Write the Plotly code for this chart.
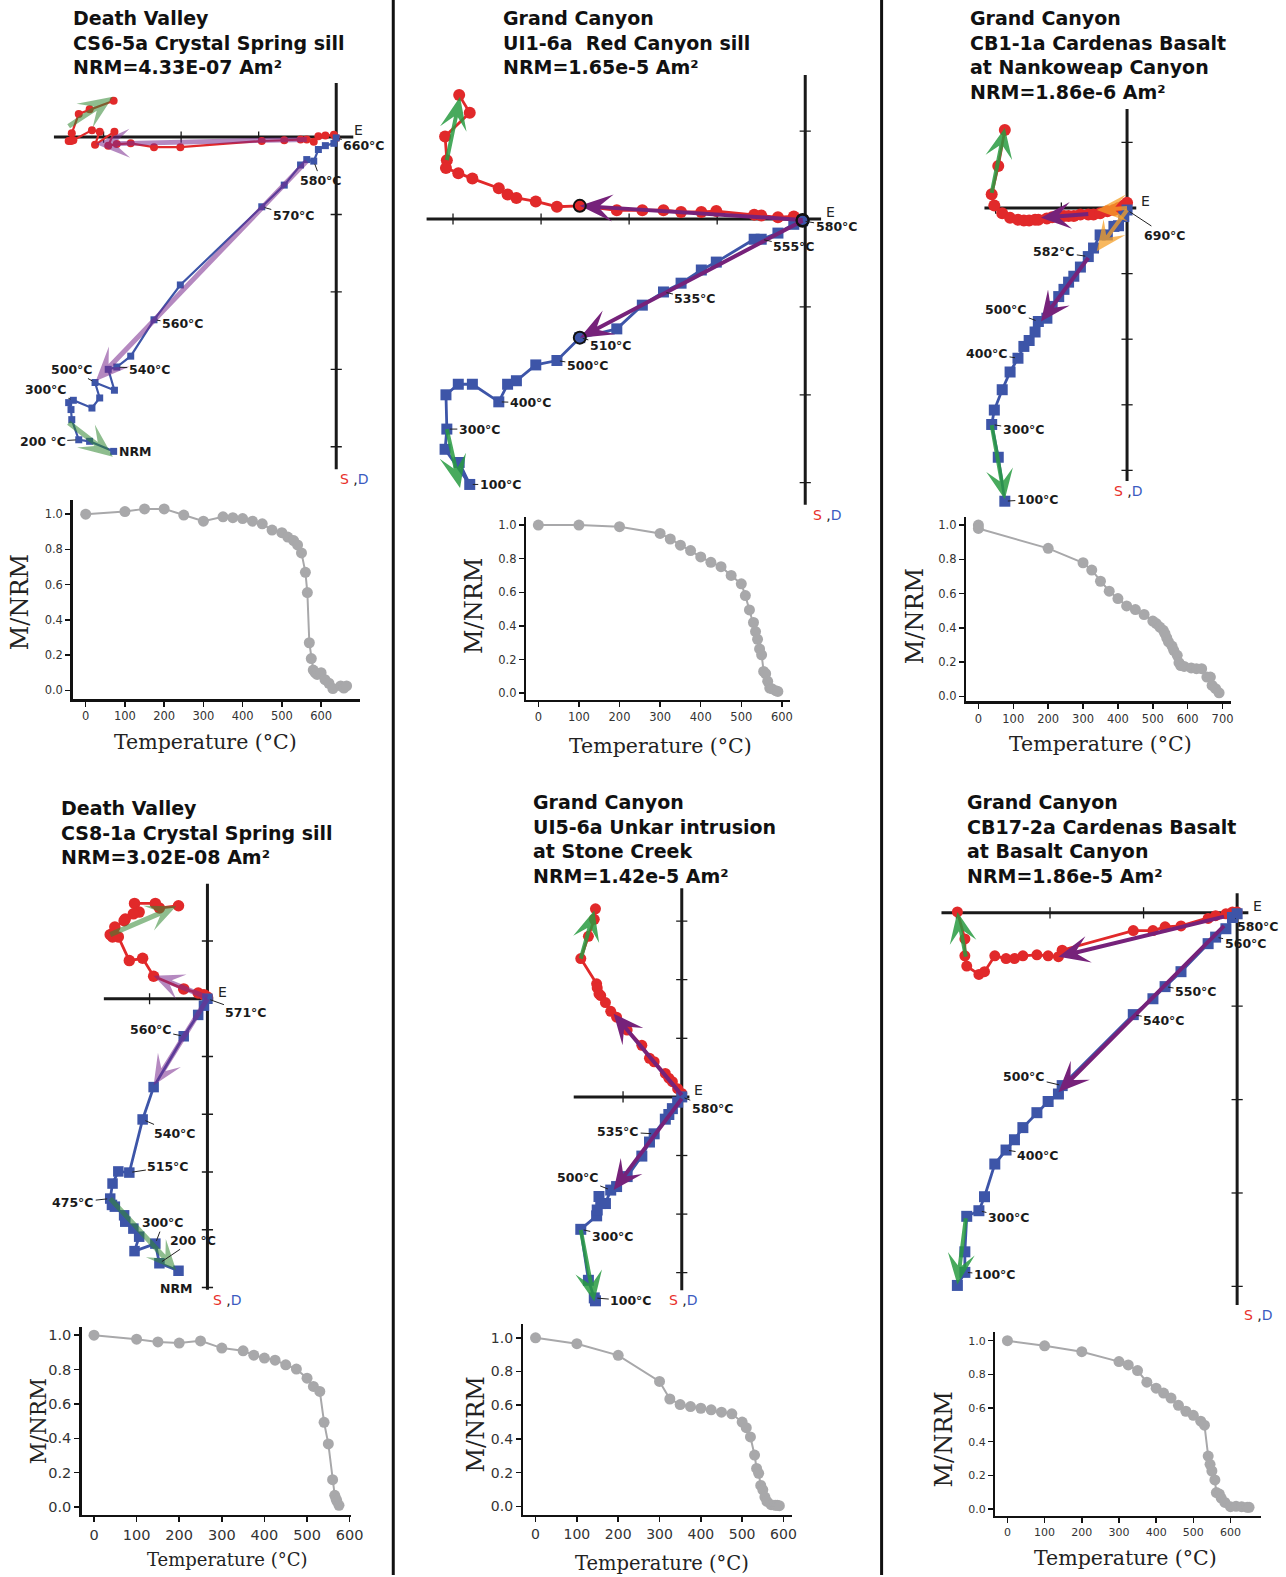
import math
import plotly.graph_objects as go

W, H = 1286, 1577
# the page is photographed ~1% narrower than the layout width; compensate
SX = 0.990

# =====================================================================
# DATA
# Zijderveld plots: x = shared horizontal component, hor = horizontal-plane
# projection (red circles), ver = vertical-plane projection (blue squares);
# units = one axis-tick interval.
# Demag curves: temperature (°C) and M/NRM.
# =====================================================================

# ---- Panel 1 : Death Valley, CS6-5a Crystal Spring sill
p1_title = ["Death Valley", "CS6-5a Crystal Spring sill", "NRM=4.33E-07 Am²"]
p1_x = [-2.87, -3.18, -3.32, -3.41, -3.42, -3.45, -3.39, -3.15, -3.05, -3.11, -2.86, -2.94, -2.83,
        -2.65, -2.35, -2.01, -0.96, -0.67, -0.46, -0.38, -0.29, -0.23, -0.14, -0.03, 0.00]
p1_hor = [0.47, 0.36, 0.30, 0.05, -0.05, -0.05, -0.04, 0.09, 0.07, -0.10, 0.07, -0.11, -0.09,
          -0.08, -0.13, -0.13, -0.05, -0.04, -0.03, -0.03, -0.06, 0.01, 0.02, 0.03, -0.01]
p1_ver = [-4.06, -3.93, -3.91, -3.65, -3.52, -3.43, -3.40, -3.50, -3.37, -3.17, -3.27, -3.00, -2.97,
          -2.83, -2.36, -1.91, -0.90, -0.62, -0.36, -0.29, -0.31, -0.16, -0.11, -0.08, -0.01]
p1_lab_idx = [24, 20, 16, 14, 12, 9, 6, 2]
p1_lab_text = ["660°C", "580°C", "570°C", "560°C", "540°C", "500°C", "300°C", "200 °C"]
p1_nrm_idx = 0
p1_fit_low = dict(x=[-3.45, -2.88], h=[0.14, 0.52], v=[-3.69, -4.13])
p1_fit_mid = dict(x=[-0.38, -3.10], h=[-0.03, -0.09], v=[-0.31, -3.15])
p1_temp = [0, 100, 150, 200, 250, 300, 350, 375, 400, 425, 450, 475, 500, 515, 530, 540, 550, 560,
           565, 570, 575, 580, 585, 590, 600, 610, 620, 630, 650, 658, 665]
p1_mnrm = [1.00, 1.015, 1.03, 1.03, 0.995, 0.96, 0.985, 0.98, 0.975, 0.96, 0.945, 0.91, 0.895, 0.87,
           0.85, 0.825, 0.78, 0.67, 0.555, 0.27, 0.18, 0.115, 0.10, 0.09, 0.10, 0.06, 0.04, 0.01,
           0.025, 0.013, 0.025]

# ---- Panel 2 : Grand Canyon, UI1-6a Red Canyon sill
p2_title = ["Grand Canyon", "UI1-6a\u00a0 Red Canyon sill", "NRM=1.65e-5 Am²"]
p2_x = [-3.93, -3.81, -4.09, -4.07, -4.08, -3.94, -3.78, -3.48, -3.38, -3.28, -3.06, -2.82, -2.56,
        -2.14, -1.85, -1.61, -1.41, -1.18, -1.01, -0.58, -0.50, -0.31, -0.13, -0.03]
p2_hor = [1.41, 1.21, 0.94, 0.67, 0.58, 0.52, 0.46, 0.35, 0.28, 0.24, 0.20, 0.14, 0.15,
          0.10, 0.10, 0.10, 0.08, 0.08, 0.09, 0.05, 0.04, 0.02, 0.03, -0.01]
p2_ver = [-2.77, -3.02, -2.62, -2.39, -2.00, -1.88, -1.88, -2.08, -1.88, -1.84, -1.66, -1.61, -1.35,
          -1.25, -0.98, -0.83, -0.73, -0.58, -0.49, -0.23, -0.23, -0.16, -0.06, -0.02]
p2_lab_idx = [23, 20, 15, 12, 11, 7, 3, 1]
p2_lab_text = ["580°C", "555°C", "535°C", "510°C", "500°C", "400°C", "300°C", "100°C"]
p2_fit_low = dict(x=[-4.07, -3.92], h=[0.67, 1.39], v=[-2.39, -3.06])
p2_fit_mid = dict(x=[-0.03, -2.56], h=[-0.01, 0.15], v=[-0.02, -1.35])
p2_temp = [0, 100, 200, 300, 325, 350, 375, 400, 425, 450, 475, 500, 510, 520, 530, 535, 540, 545,
           550, 555, 560, 565, 570, 575, 585, 590]
p2_mnrm = [1.00, 1.00, 0.99, 0.95, 0.917, 0.88, 0.848, 0.81, 0.778, 0.752, 0.70, 0.65, 0.58, 0.495,
           0.42, 0.366, 0.32, 0.263, 0.228, 0.129, 0.115, 0.07, 0.03, 0.026, 0.014, 0.01]

# ---- Panel 3 : Grand Canyon, CB1-1a Cardenas Basalt at Nankoweap Canyon
p3_title = ["Grand Canyon", "CB1-1a Cardenas Basalt", "at Nankoweap Canyon", "NRM=1.86e-6 Am²"]
p3_x = [-1.86, -1.96, -2.06, -2.02, -1.90, -1.78, -1.66, -1.57, -1.49, -1.40, -1.35, -1.22, -1.14,
        -1.04, -0.96, -0.89, -0.81, -0.71, -0.59, -0.51, -0.41, -0.30, -0.20, -0.13, -0.05, 0.00]
p3_hor = [1.19, 0.64, 0.21, 0.04, -0.08, -0.15, -0.18, -0.19, -0.19, -0.18, -0.18, -0.16, -0.14,
          -0.13, -0.12, -0.12, -0.12, -0.10, -0.10, -0.10, -0.08, -0.05, -0.03, 0.00, 0.04, 0.08]
p3_ver = [-4.47, -3.80, -3.30, -3.08, -2.77, -2.50, -2.29, -2.11, -2.02, -1.89, -1.73, -1.68, -1.50,
          -1.35, -1.24, -1.13, -1.04, -0.90, -0.74, -0.61, -0.41, -0.41, -0.28, -0.27, -0.13, -0.03]
p3_lab_idx = [25, 18, 10, 6, 2, 0]
p3_lab_text = ["690°C", "582°C", "500°C", "400°C", "300°C", "100°C"]
p3_fit_low = dict(x=[-2.06, -1.86], h=[0.23, 1.22], v=[-3.31, -4.44])
p3_fit_mid = dict(x=[-0.59, -1.31], h=[-0.09, -0.15], v=[-0.76, -1.73])
p3_fit_high = dict(x=[0.00, -0.46], h=[0.00, -0.03], v=[-0.03, -0.66])
p3_temp = [0, 0, 200, 300, 325, 350, 375, 400, 425, 450, 475, 500, 510, 520, 530, 535, 540, 545, 555,
           560, 570, 575, 580, 590, 610, 625, 640, 655, 665, 670, 680, 690]
p3_mnrm = [1.00, 0.98, 0.864, 0.78, 0.737, 0.672, 0.614, 0.571, 0.528, 0.507, 0.478, 0.44, 0.425,
           0.405, 0.386, 0.366, 0.341, 0.318, 0.294, 0.269, 0.24, 0.197, 0.18, 0.175, 0.166, 0.162,
           0.162, 0.113, 0.113, 0.064, 0.045, 0.021]

# ---- Panel 4 : Death Valley, CS8-1a Crystal Spring sill
p4_title = ["Death Valley", "CS8-1a Crystal Spring sill", "NRM=3.02E-08 Am²"]
p4_x = [-0.50, -0.83, -0.90, -1.26, -1.18, -1.28, -1.42, -1.44, -1.60, -1.65, -1.68, -1.64, -1.54,
        -1.35, -1.12, -0.93, -0.41, -0.16, -0.06, 0.00]
p4_hor = [1.61, 1.57, 1.65, 1.65, 1.50, 1.47, 1.38, 1.35, 1.24, 1.12, 1.11, 1.07, 1.07,
          0.66, 0.70, 0.39, 0.17, 0.10, 0.07, 0.03]
p4_ver = [-4.71, -4.58, -4.24, -4.37, -4.12, -3.98, -3.86, -3.75, -3.60, -3.57, -3.46, -3.20, -2.99,
          -3.01, -2.09, -1.53, -0.65, -0.28, -0.12, 0.00]
p4_lab_idx = [19, 16, 14, 13, 10, 2, 1]
p4_lab_text = ["571°C", "560°C", "540°C", "515°C", "475°C", "300°C", "200 °C"]
p4_nrm_idx = 0
p4_fit_low = dict(x=[-1.68, -0.54], h=[1.11, 1.60], v=[-3.46, -4.70])
p4_fit_mid = dict(x=[0.00, -0.93], h=[0.02, 0.40], v=[0.00, -1.50])
p4_temp = [0, 100, 150, 200, 250, 300, 350, 375, 400, 425, 450, 475, 500, 515, 530, 540, 550, 560,
           565, 568, 570, 575]
p4_mnrm = [1.00, 0.977, 0.961, 0.954, 0.967, 0.925, 0.909, 0.884, 0.867, 0.855, 0.828, 0.803, 0.75,
           0.702, 0.673, 0.493, 0.367, 0.159, 0.068, 0.048, 0.035, 0.01]

# ---- Panel 5 : Grand Canyon, UI5-6a Unkar intrusion at Stone Creek
p5_title = ["Grand Canyon", "UI5-6a Unkar intrusion", "at Stone Creek", "NRM=1.42e-5 Am²"]
p5_x = [-1.47, -1.49, -1.59, -1.72, -1.45, -1.44, -1.38, -1.41, -1.30, -1.21, -1.11, -0.93, -0.68,
        -0.55, -0.47, -0.28, -0.22, -0.16, -0.07, 0.00]
p5_hor = [3.21, 3.03, 2.74, 2.36, 1.93, 1.86, 1.73, 1.76, 1.61, 1.46, 1.36, 1.14, 0.88,
          0.66, 0.60, 0.40, 0.32, 0.26, 0.14, 0.06]
p5_ver = [-3.48, -3.43, -3.13, -2.26, -2.03, -1.93, -1.82, -1.70, -1.82, -1.59, -1.53, -1.36, -1.01,
          -0.77, -0.63, -0.38, -0.30, -0.20, -0.09, 0.00]
p5_lab_idx = [19, 14, 9, 3, 1]
p5_lab_text = ["580°C", "535°C", "500°C", "300°C", "100°C"]
p5_fit_low = dict(x=[-1.72, -1.49], h=[2.36, 3.18], v=[-2.27, -3.49])
p5_fit_mid = dict(x=[0.00, -1.16], h=[0.03, 1.42], v=[-0.03, -1.59])
p5_temp = [0, 100, 200, 300, 325, 350, 375, 400, 425, 450, 475, 500, 510, 520, 530, 535, 540, 545,
           550, 555, 560, 570, 580, 585, 590]
p5_mnrm = [1.00, 0.965, 0.896, 0.741, 0.637, 0.604, 0.592, 0.582, 0.573, 0.559, 0.549, 0.50, 0.467,
           0.412, 0.304, 0.225, 0.196, 0.124, 0.098, 0.055, 0.029, 0.01, 0.006, 0.006, 0.004]

# ---- Panel 6 : Grand Canyon, CB17-2a Cardenas Basalt at Basalt Canyon
p6_title = ["Grand Canyon", "CB17-2a Cardenas Basalt", "at Basalt Canyon", "NRM=1.86e-5 Am²"]
p6_x = [-2.99, -2.91, -2.91, -2.89, -2.76, -2.70, -2.59, -2.47, -2.38, -2.29, -2.14, -2.02, -1.91,
        -1.87, -1.11, -0.90, -0.77, -0.60, -0.31, -0.23, -0.12, -0.05, 0.00]
p6_hor = [0.01, -0.28, -0.46, -0.57, -0.66, -0.63, -0.46, -0.49, -0.49, -0.46, -0.45, -0.46, -0.47,
          -0.40, -0.19, -0.19, -0.15, -0.14, -0.06, -0.03, -0.01, 0.01, 0.01]
p6_ver = [-3.99, -3.85, -3.63, -3.25, -3.19, -3.04, -2.69, -2.54, -2.43, -2.30, -2.14, -2.02, -1.94,
          -1.85, -1.09, -0.92, -0.79, -0.63, -0.33, -0.26, -0.17, -0.05, -0.01]
p6_lab_idx = [21, 19, 16, 14, 13, 7, 4, 1]
p6_lab_text = ["580°C", "560°C", "550°C", "540°C", "500°C", "400°C", "300°C", "100°C"]
p6_fit_low = dict(x=[-2.90, -2.99], h=[-0.47, 0.01], v=[-3.27, -3.98])
p6_fit_mid = dict(x=[-0.14, -1.91], h=[-0.04, -0.47], v=[-0.14, -1.92])
p6_temp = [0, 100, 200, 300, 325, 350, 375, 400, 420, 440, 460, 480, 500, 520, 530, 540, 545, 550,
           558, 562, 570, 575, 585, 600, 615, 630, 645, 650]
p6_mnrm = [1.00, 0.97, 0.935, 0.876, 0.856, 0.823, 0.754, 0.718, 0.689, 0.659, 0.616, 0.581, 0.557,
           0.522, 0.498, 0.315, 0.266, 0.226, 0.173, 0.098, 0.089, 0.065, 0.039, 0.014, 0.016, 0.014,
           0.01, 0.01]

# =====================================================================
# STYLES / LAYOUT (pixel positions in the 1286x1577 page)
# =====================================================================
RED = "#e1292a"
BLUE = "#3d55a8"
GRAY = "#a8a8aa"
AXC = "#1a1a1a"
LOW_T = "rgba(50,135,50,0.55)"
MID_T = "rgba(120,40,140,0.55)"
LOW = "rgba(40,155,65,0.85)"
MID = "rgb(118,34,122)"
HIGH = "rgba(245,160,40,0.75)"

ZIJ = [
    dict(x=p1_x, h=p1_hor, v=p1_ver, li=p1_lab_idx, lt=p1_lab_text, nrm=p1_nrm_idx,
         fits=[p1_fit_low, p1_fit_mid], title=p1_title),
    dict(x=p2_x, h=p2_hor, v=p2_ver, li=p2_lab_idx, lt=p2_lab_text, nrm=None,
         fits=[p2_fit_low, p2_fit_mid], title=p2_title),
    dict(x=p3_x, h=p3_hor, v=p3_ver, li=p3_lab_idx, lt=p3_lab_text, nrm=None,
         fits=[p3_fit_low, p3_fit_mid, p3_fit_high], title=p3_title),
    dict(x=p4_x, h=p4_hor, v=p4_ver, li=p4_lab_idx, lt=p4_lab_text, nrm=p4_nrm_idx,
         fits=[p4_fit_low, p4_fit_mid], title=p4_title),
    dict(x=p5_x, h=p5_hor, v=p5_ver, li=p5_lab_idx, lt=p5_lab_text, nrm=None,
         fits=[p5_fit_low, p5_fit_mid], title=p5_title),
    dict(x=p6_x, h=p6_hor, v=p6_ver, li=p6_lab_idx, lt=p6_lab_text, nrm=None,
         fits=[p6_fit_low, p6_fit_mid], title=p6_title),
]

ZSTYLE = [
    dict(origin=(336, 137.3), scale=77.5, dom=(10, 385, 75, 488), hext=(-3.64, 0.22), vext=(-4.29, 0.70),
         msz=(8, 7), lw=2.2, lab_off=[(28, 8), (7, 19), (32, 9), (29, 4), (33, 2), (-23, -13), (-27, -11), (-36, 2)],
         nrm_off=(22, 0), e_dx=-1, sd_dx=2, head=(34, 29, 5), colors=[LOW_T, MID_T], ends=False,
         title_xy=(71, 43)),
    dict(origin=(804.7, 219.3), scale=88.0, dom=(400, 870, 72, 514), hext=(-4.30, 0.18), vext=(-3.25, 1.64),
         msz=(12, 11), lw=2.8, lab_off=[(34, 6), (33, 7), (32, 7), (31, 8), (31, 5), (32, 1), (33, 0), (31, 0)],
         nrm_off=None, e_dx=3, sd_dx=6, head=(33, 27, 4), colors=[LOW, MID], ends=True,
         title_xy=(501, 43)),
    dict(origin=(1126.3, 208.3), scale=65.67, dom=(885, 1282, 102, 512), hext=(-2.17, 0.14), vext=(-4.16, 1.51),
         msz=(12, 11), lw=2.8, lab_off=[(38, 25), (-34, -5), (-32, -12), (-31, -5), (32, 5), (33, -2)],
         nrm_off=None, e_dx=3, sd_dx=-15, head=(30, 27, 4), colors=[LOW, MID, HIGH], ends=False,
         title_xy=(967, 55.5)),
    dict(origin=(207.3, 1000), scale=57.83, dom=(10, 385, 878, 1300), hext=(-1.79, 0.10), vext=(-5.04, 1.99),
         msz=(11.5, 10.5), lw=2.8, lab_off=[(39, 14), (-33, -7), (32, 14), (39, -6), (-37, 4), (8, -21), (34, -23)],
         nrm_off=(-2, 18), e_dx=3, sd_dx=4, head=(30, 27, 5), colors=[LOW_T, MID_T], ends=False,
         title_xy=(59, 834)),
    dict(origin=(681.3, 1098.3), scale=58.67, dom=(400, 870, 884, 1312), hext=(-1.84, 0.13), vext=(-3.30, 3.56),
         msz=(11, 11), lw=2.8, lab_off=[(31, 12), (-36, -2), (-33, -13), (32, 7), (37, 3)],
         nrm_off=None, e_dx=3, sd_dx=-15, head=(30, 27, 4), colors=[LOW, MID], ends=False,
         title_xy=(531, 840)),
    dict(origin=(1236.3, 914), scale=93.5, dom=(885, 1282, 888, 1315), hext=(-3.16, 0.12), vext=(-4.20, 0.21),
         msz=(11, 11), lw=2.8, lab_off=[(26, 9), (30, 6), (31, 5), (31, 6), (-38, -9), (32, 5), (30, 7), (30, 2)],
         nrm_off=None, e_dx=3, sd_dx=5, head=(31, 27, 4), colors=[LOW, MID], ends=False,
         title_xy=(964, 840)),
]

DEMAG = [(p1_temp, p1_mnrm), (p2_temp, p2_mnrm), (p3_temp, p3_mnrm),
         (p4_temp, p4_mnrm), (p5_temp, p5_mnrm), (p6_temp, p6_mnrm)]

DSTYLE = [
    dict(dom=(72.7, 359.3, 500.7, 700), xr=(-33, 698), yr=(-0.05, 1.08), xmax=600, tf=11.5,
         yt=(20, 603, 24), xt=(205, 743, 20.5)),
    dict(dom=(526, 789.3, 517.3, 700.7), xr=(-29.5, 619.5), yr=(-0.04, 1.05), xmax=600, tf=11.5,
         yt=(473.7, 606.7, 24), xt=(660, 746.7, 20.5)),
    dict(dom=(965.7, 1230.3, 517.3, 702.3), xr=(-34.5, 724.5), yr=(-0.029, 1.049), xmax=700, tf=11.5,
         yt=(914.7, 616.7, 24), xt=(1099.7, 745, 20.5)),
    dict(dom=(81.7, 351, 1328.3, 1516.7), xr=(-28.75, 603.75), yr=(-0.045, 1.05), xmax=600, tf=14.5,
         yt=(38, 1423, 21.5), xt=(226.7, 1561.7, 18)),
    dict(dom=(523, 791, 1326, 1516.7), xr=(-29.5, 619.5), yr=(-0.05, 1.08), xmax=600, tf=14,
         yt=(475.3, 1426.7, 24), xt=(662, 1565, 19.5)),
    dict(dom=(994.7, 1260.3, 1334, 1517.7), xr=(-32.5, 682.5), yr=(-0.04, 1.05), xmax=600, tf=11,
         yt=(943, 1441.7, 24), xt=(1124.7, 1560, 20.5), ytext={0.6: "0·6"}),
]

SEPARATORS_X = [393, 881]


# =====================================================================
# BUILD
# =====================================================================
def fx(px):
    return px / (W * SX)


def fy(py):
    return 1 - py / H


def refs(i):
    return ("x" if i == 1 else f"x{i}"), ("y" if i == 1 else f"y{i}")


def keys(i):
    return ("xaxis" if i == 1 else f"xaxis{i}"), ("yaxis" if i == 1 else f"yaxis{i}")


def arrow_poly(x0, y0, x1, y1, hl, hw, sw, overhang=0.38):
    dx, dy = x1 - x0, y1 - y0
    L = math.hypot(dx, dy)
    ux, uy = dx / L, dy / L
    nx, ny = -uy, ux
    hl = min(hl, L)
    bx, by = x1 - ux * hl, y1 - uy * hl
    cx, cy = x1 - ux * hl * (1 - overhang), y1 - uy * hl * (1 - overhang)
    pts = [
        (x0 + nx * sw / 2, y0 + ny * sw / 2),
        (cx + nx * sw / 2, cy + ny * sw / 2),
        (bx + nx * hw / 2, by + ny * hw / 2),
        (x1, y1),
        (bx - nx * hw / 2, by - ny * hw / 2),
        (cx - nx * sw / 2, cy - ny * sw / 2),
        (x0 - nx * sw / 2, y0 - ny * sw / 2),
        (x0 + nx * sw / 2, y0 + ny * sw / 2),
    ]
    return [p[0] for p in pts], [p[1] for p in pts]


fig = go.Figure()
layout = dict(width=W, height=H, autosize=False, margin=dict(l=0, r=0, t=0, b=0, pad=0),
              paper_bgcolor="white", plot_bgcolor="rgba(0,0,0,0)", showlegend=False)
annotations = []
shapes = []

# ---------------- Zijderveld plots ----------------
for k, (P, S) in enumerate(zip(ZIJ, ZSTYLE), start=1):
    xr, yr = refs(k)
    xk, yk = keys(k)
    ox, oy = S["origin"]
    s = S["scale"]
    d0, d1, e0, e1 = S["dom"]
    d1_eff = min(d1, W * SX)
    layout[xk] = dict(domain=[fx(d0), fx(d1_eff)], range=[(d0 - ox) / s, (d1_eff - ox) / s],
                      visible=False, anchor=yr, fixedrange=True)
    layout[yk] = dict(domain=[fy(e1), fy(e0)], range=[(oy - e1) / s, (oy - e0) / s], visible=False,
                      anchor=xr, fixedrange=True)

    h0, h1 = S["hext"]
    v0, v1 = S["vext"]
    # axis cross
    fig.add_trace(go.Scatter(x=[h0, h1], y=[0, 0], mode="lines", line=dict(color=AXC, width=3),
                             xaxis=xr, yaxis=yr, hoverinfo="skip"))
    fig.add_trace(go.Scatter(x=[0, 0], y=[v0, v1], mode="lines", line=dict(color=AXC, width=3),
                             xaxis=xr, yaxis=yr, hoverinfo="skip"))
    hticks = [t for t in range(math.ceil(h0), math.floor(h1) + 1) if t != 0]
    vticks = [t for t in range(math.ceil(v0), math.floor(v1) + 1) if t != 0]
    fig.add_trace(go.Scatter(x=hticks, y=[0] * len(hticks), mode="markers",
                             marker=dict(symbol="line-ns", size=8, line=dict(width=1.3, color=AXC)),
                             xaxis=xr, yaxis=yr, hoverinfo="skip"))
    fig.add_trace(go.Scatter(x=[0] * len(vticks), y=vticks, mode="markers",
                             marker=dict(symbol="line-ew", size=8, line=dict(width=1.3, color=AXC)),
                             xaxis=xr, yaxis=yr, hoverinfo="skip"))

    # data
    fig.add_trace(go.Scatter(x=P["x"], y=P["h"], mode="lines+markers",
                             line=dict(color=RED, width=S["lw"]),
                             marker=dict(symbol="circle", size=S["msz"][0], color=RED, line=dict(width=0)),
                             xaxis=xr, yaxis=yr, cliponaxis=False))
    fig.add_trace(go.Scatter(x=P["x"], y=P["v"], mode="lines+markers",
                             line=dict(color=BLUE, width=S["lw"]),
                             marker=dict(symbol="square", size=S["msz"][1], color=BLUE, line=dict(width=0)),
                             xaxis=xr, yaxis=yr, cliponaxis=False))

    # fitted component arrows
    hl, hw, sw = (v / s for v in S["head"])
    for fit, col in zip(P["fits"], S["colors"]):
        for proj in ("h", "v"):
            xs, ys = arrow_poly(fit["x"][0], fit[proj][0], fit["x"][1], fit[proj][1], hl, hw, sw)
            fig.add_trace(go.Scatter(x=xs, y=ys, mode="lines", fill="toself", fillcolor=col,
                                     line=dict(width=0, color=col), xaxis=xr, yaxis=yr, hoverinfo="skip"))
    if S["ends"]:
        fit = P["fits"][1]
        fig.add_trace(go.Scatter(x=fit["x"] + fit["x"], y=fit["h"] + fit["v"], mode="markers",
                                 marker=dict(symbol="circle", size=12, color="rgba(0,0,0,0)",
                                             line=dict(width=2, color="#111")),
                                 xaxis=xr, yaxis=yr, cliponaxis=False))

    # temperature labels
    for idx, txt, (ax, ay) in zip(P["li"], P["lt"], S["lab_off"]):
        annotations.append(dict(x=P["x"][idx], y=P["v"][idx], xref=xr, yref=yr, text=f"<b>{txt}</b>",
                                showarrow=True, arrowhead=0, arrowwidth=1, arrowcolor="#222",
                                ax=ax, ay=ay, standoff=3,
                                font=dict(family="DejaVu Sans", size=12.5, color="#1a1a1a")))
    if P["nrm"] is not None:
        idx = P["nrm"]
        annotations.append(dict(x=P["x"][idx], y=P["v"][idx], xref=xr, yref=yr, text="<b>NRM</b>",
                                showarrow=False, xshift=S["nrm_off"][0], yshift=-S["nrm_off"][1],
                                font=dict(family="DejaVu Sans", size=12.5, color="#1a1a1a")))

    # E and S,D axis labels
    annotations.append(dict(x=h1, y=0, xref=xr, yref=yr, text="E", showarrow=False,
                            xanchor="left", yanchor="middle", xshift=S["e_dx"], yshift=7,
                            font=dict(family="DejaVu Sans", size=14, color="#222")))
    annotations.append(dict(x=0, y=v0, xref=xr, yref=yr,
                            text='<span style="color:#e8302a">S</span> ,<span style="color:#3c5bbf">D</span>',
                            showarrow=False, xanchor="left", yanchor="top", xshift=S["sd_dx"], yshift=0,
                            font=dict(family="DejaVu Sans", size=14, color="#222")))

    # title block
    tx, ty = S["title_xy"]
    annotations.append(dict(x=fx(tx), y=fy(ty), xref="paper", yref="paper",
                            text="<br>".join(f"<b>{t}</b>" for t in P["title"]),
                            showarrow=False, xanchor="left", yanchor="middle", align="left",
                            font=dict(family="DejaVu Sans", size=19, color="#111")))

# ---------------- demagnetisation curves ----------------
for j, ((T, M), D) in enumerate(zip(DEMAG, DSTYLE)):
    k = 7 + j
    xr, yr = refs(k)
    xk, yk = keys(k)
    d0, d1, e0, e1 = D["dom"]
    yvals = [0.0, 0.2, 0.4, 0.6, 0.8, 1.0]
    ytext = [D.get("ytext", {}).get(v, f"{v:.1f}") for v in yvals]
    common = dict(showline=True, linecolor="#111", linewidth=2.5, ticks="outside", ticklen=5,
                  tickwidth=1.5, tickcolor="#111", showgrid=False, zeroline=False, fixedrange=True,
                  tickfont=dict(family="DejaVu Sans", size=D["tf"], color="#333"))
    layout[xk] = dict(domain=[fx(d0), fx(d1)], range=list(D["xr"]), anchor=yr,
                      tickvals=list(range(0, D["xmax"] + 1, 100)), **common)
    layout[yk] = dict(domain=[fy(e1), fy(e0)], range=list(D["yr"]), anchor=xr,
                      tickvals=yvals, ticktext=ytext, **common)
    fig.add_trace(go.Scatter(x=T, y=M, mode="lines+markers", line=dict(color=GRAY, width=2),
                             marker=dict(size=11, color=GRAY), xaxis=xr, yaxis=yr, cliponaxis=False))
    ytx, yty, yts = D["yt"]
    annotations.append(dict(x=fx(ytx), y=fy(yty), xref="paper", yref="paper", text="M/NRM",
                            textangle=-90, showarrow=False, xanchor="center", yanchor="middle",
                            font=dict(family="DejaVu Serif", size=yts, color="#222")))
    xtx, xty, xts = D["xt"]
    annotations.append(dict(x=fx(xtx), y=fy(xty), xref="paper", yref="paper", text="Temperature (°C)",
                            showarrow=False, xanchor="center", yanchor="middle",
                            font=dict(family="DejaVu Serif", size=xts, color="#222")))

# column separators
for sx in SEPARATORS_X:
    shapes.append(dict(type="line", xref="paper", yref="paper", x0=fx(sx), x1=fx(sx), y0=0, y1=1,
                       line=dict(color="#111", width=3)))

layout["annotations"] = annotations
layout["shapes"] = shapes
fig.update_layout(**layout)
fig.write_html(
    "out.html",
    config={"responsive": False, "displayModeBar": False, "staticPlot": True},
    post_script=("document.documentElement.style.overflow='hidden';"
                 "document.body.style.margin='0px';document.body.style.overflow='hidden';"),
)
